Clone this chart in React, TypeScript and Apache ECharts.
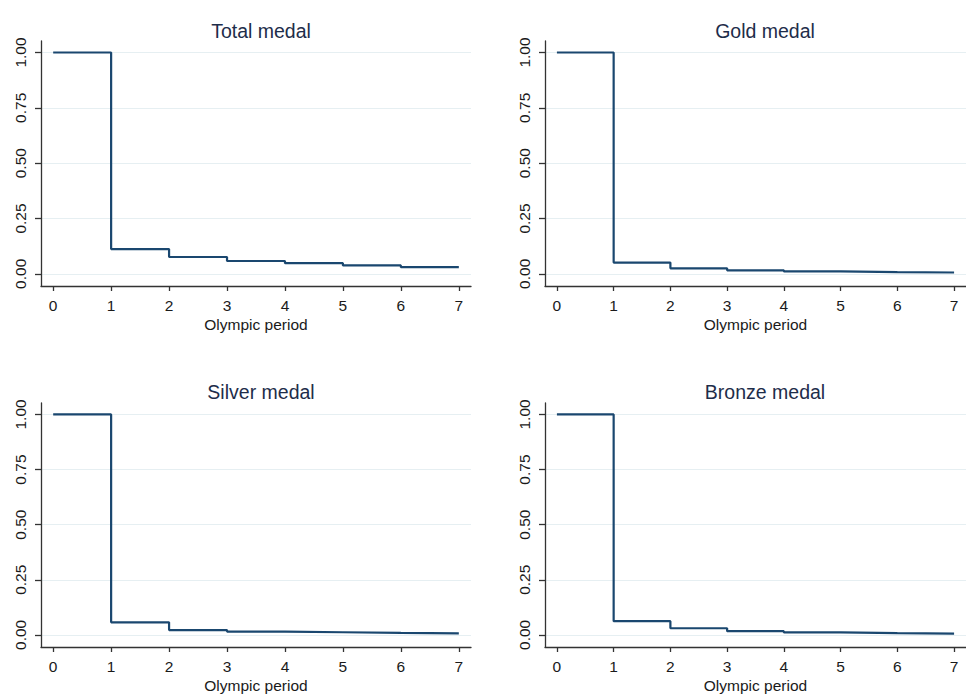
import React, { useEffect, useRef } from 'react';
import * as echarts from 'echarts';

const periods = [0, 1, 2, 3, 4, 5, 6, 7];
const totalMedal = [1, 0.112, 0.076, 0.058, 0.048, 0.038, 0.030, 0.030];
const goldMedal = [1, 0.051, 0.025, 0.016, 0.011, 0.008, 0.006, 0.006];
const silverMedal = [1, 0.057, 0.022, 0.015, 0.012, 0.009, 0.007, 0.007];
const bronzeMedal = [1, 0.062, 0.030, 0.017, 0.011, 0.008, 0.006, 0.006];
const panelTitles = ['Total medal', 'Gold medal', 'Silver medal', 'Bronze medal'];
const yTicks = [0, 0.25, 0.5, 0.75, 1];
const xTicks = [0, 1, 2, 3, 4, 5, 6, 7];
const xAxisName = 'Olympic period';

const FONT = '"Liberation Sans", Arial, sans-serif';
const LINE = '#1a476f';
const AXIS = '#333333';

export default function App() {
  const ref = useRef<HTMLDivElement>(null);
  useEffect(() => {
    if (!ref.current) return;
    const chart = echarts.init(ref.current, undefined, { renderer: 'svg' });
    const seriesData = [totalMedal, goldMedal, silverMedal, bronzeMedal];
    const grids = [
      { left: 41, top: 41, width: 430, height: 245 },
      { left: 545, top: 41, width: 430, height: 245 },
      { left: 41, top: 403, width: 430, height: 246 },
      { left: 545, top: 403, width: 430, height: 246 },
    ];
    const titleTops = [16, 16, 377, 377];
    const option: any = {
      animation: false,
      backgroundColor: '#ffffff',
      title: panelTitles.map((t, i) => ({
        text: t,
        left: grids[i].left + grids[i].width / 2,
        top: titleTops[i],
        textAlign: 'center',
        textStyle: { fontFamily: FONT, fontSize: 19.5, fontWeight: 'normal', color: '#1e2d4a' },
      })),
      grid: grids.map((g) => ({ ...g, containLabel: false })),
      xAxis: grids.map((_, i) => ({
        type: 'value',
        gridIndex: i,
        min: -0.21,
        max: 7.21,
        name: xAxisName,
        nameLocation: 'middle',
        nameGap: 30,
        nameTextStyle: { fontFamily: FONT, fontSize: 15.5, color: '#1a1a1a' },
        axisLine: { show: true, onZero: false, lineStyle: { color: AXIS, width: 1.3 } },
        axisTick: { show: true, length: 5, customValues: xTicks, lineStyle: { color: AXIS, width: 1.3 } },
        axisLabel: {
          customValues: xTicks,
          margin: 11,
          fontFamily: FONT,
          fontSize: 15.5,
          color: '#1a1a1a',
          formatter: (v: number) => String(v),
        },
        splitLine: { show: false },
      })),
      yAxis: grids.map((_, i) => ({
        type: 'value',
        gridIndex: i,
        min: -0.055,
        max: 1.052,
        axisLine: { show: true, onZero: false, lineStyle: { color: AXIS, width: 1.3 } },
        axisTick: { show: true, length: 6, customValues: yTicks, lineStyle: { color: AXIS, width: 1.3 } },
        axisLabel: {
          customValues: yTicks,
          rotate: 90,
          margin: 13,
          fontFamily: FONT,
          fontSize: 15.5,
          color: '#1a1a1a',
          formatter: (v: number) => v.toFixed(2),
        },
        splitLine: { show: true, lineStyle: { color: '#e6eff2', width: 1.2 } },
      })),
      series: seriesData.map((vals, i) => ({
        type: 'line',
        xAxisIndex: i,
        yAxisIndex: i,
        step: 'end',
        symbol: 'none',
        data: periods.map((p, k) => [p, vals[k]]),
        lineStyle: { color: LINE, width: 2.2 },
      })),
    };
    chart.setOption(option);
    return () => chart.dispose();
  }, []);
  return (
    <div
      ref={ref}
      style={{ position: 'fixed', left: 0, top: 0, width: 966, height: 694, background: '#fff' }}
    />
  );
}
